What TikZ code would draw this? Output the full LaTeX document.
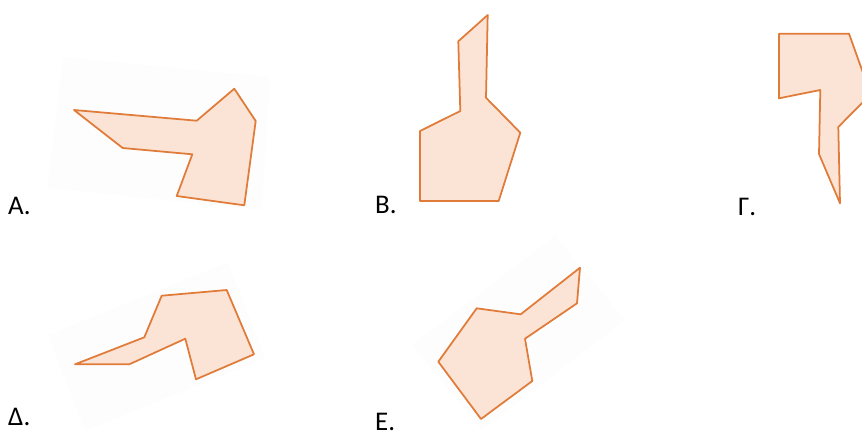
\documentclass[tikz,border=0pt]{standalone}
\usepackage{fontspec}
\setmainfont{Carlito}
\definecolor{edgeorange}{RGB}{224,123,57}
\definecolor{lightpeach}{RGB}{251,228,213}
\definecolor{paleback}{RGB}{253,253,253}
\begin{document}
\begin{tikzpicture}[
  x=0.03cm, y=-0.03cm,
  poly/.style={
    draw=edgeorange,
    fill=lightpeach,
    line width=1.5pt,
    line join=round
  },
  backing/.style={fill=paleback},
  letter/.style={anchor=base west, inner sep=0pt, font=\fontsize{23}{27}\selectfont}
]
\useasboundingbox (0,0) rectangle (862,435);
\clip (0,0) rectangle (862,435);
% faint backgrounds
\fill[backing] (63,57) -- (270,77) -- (262,210) -- (47,188) -- cycle;
\fill[backing] (48,335) -- (228,262) -- (265,358) -- (85,431) -- cycle;
\fill[backing] (412,345) -- (555,236) -- (625,320) -- (482,430) -- cycle;
% figures
\draw[poly] (74,110) -- (196.7,120.7) -- (234.3,88.7) -- (255.7,121) -- (244.3,205.3)
  -- (176.7,196) -- (192.3,154.3) -- (122.7,148) -- cycle;
\draw[poly] (487.7,15) -- (458.3,41.3) -- (460.3,111) -- (420,131) -- (420,201)
  -- (498.7,201) -- (520.3,132.7) -- (486,97.7) -- cycle;
\draw[poly] (779,33.7) -- (849,33.7) -- (870.7,94.2) -- (838.3,127) -- (840,203.3)
  -- (819,154) -- (820.3,90) -- (779,98.3) -- cycle;
\draw[poly] (75,364.3) -- (144.3,337.3) -- (161.7,295.7) -- (226.7,290) -- (254,354.3)
  -- (196,379.3) -- (185.3,338.7) -- (129.3,364.3) -- cycle;
\draw[poly] (476.7,308.3) -- (520.7,314.3) -- (580,267.7) -- (577,303.3) -- (525,338.7)
  -- (532.3,381) -- (481,419) -- (438.3,361.7) -- cycle;
% labels
\node[letter] (labA) at (8,214) {Α.};
\node[letter] (labB) at (375,213) {Β.};
\node[letter] (labC) at (738,215) {Γ.};
\node[letter] (labD) at (8,425) {Δ.};
\node[letter] (labE) at (375,430) {Ε.};
\end{tikzpicture}
\end{document}
